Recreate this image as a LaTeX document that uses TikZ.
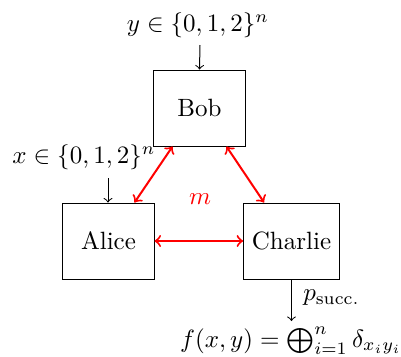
\documentclass[tikz,border=0pt]{standalone}
\usetikzlibrary{calc}
\begin{document}
\begin{tikzpicture}[x=0.4pt,y=-0.4pt,
  party/.style={draw,minimum width=36.4pt,minimum height=30.4pt,inner sep=3.3pt},
  link/.style={red,<->,line width=0.8pt},
  feed/.style={->}]
\useasboundingbox (0,0) rectangle (401,356);
\node[party] (bob) at (199.5,108) {Bob};
\node[party] (alice) at (108.5,241) {Alice};
\node[party] (charlie) at (291.5,241) {Charlie};
\node (ylab) at (198,25) {$y\in\{0,1,2\}^n$};
\node (xlab) at (84,157) {$x\in\{0,1,2\}^n$};
\coordinate (ytop) at (200,45);
\coordinate (xtop) at (108,178);
\draw[feed] (ytop) -- (bob.north);
\draw[feed] (xtop) -- (xtop |- alice.north);
\draw[link] ([xshift=7.6pt]bob.south west) -- ([xshift=-8pt]alice.north east);
\draw[link] ([xshift=-7.6pt]bob.south east) -- ([xshift=8.4pt]charlie.north west);
\draw[link] (alice.east) -- (charlie.east -| charlie.west);
\node[red] (m) at (200,199) {$m$};
\node[anchor=base,inner sep=0.5pt] (f) at (291,347) {$f(x,y)=\bigoplus_{i=1}^{n}\delta_{x_iy_i}$};
\coordinate (fend) at (291.5,321);
\draw[feed] (charlie.south) -- node[right,xshift=3.5pt,yshift=1pt,inner sep=1pt] (p) {$p_{\mathrm{succ.}}$} (fend);
\end{tikzpicture}
\end{document}
